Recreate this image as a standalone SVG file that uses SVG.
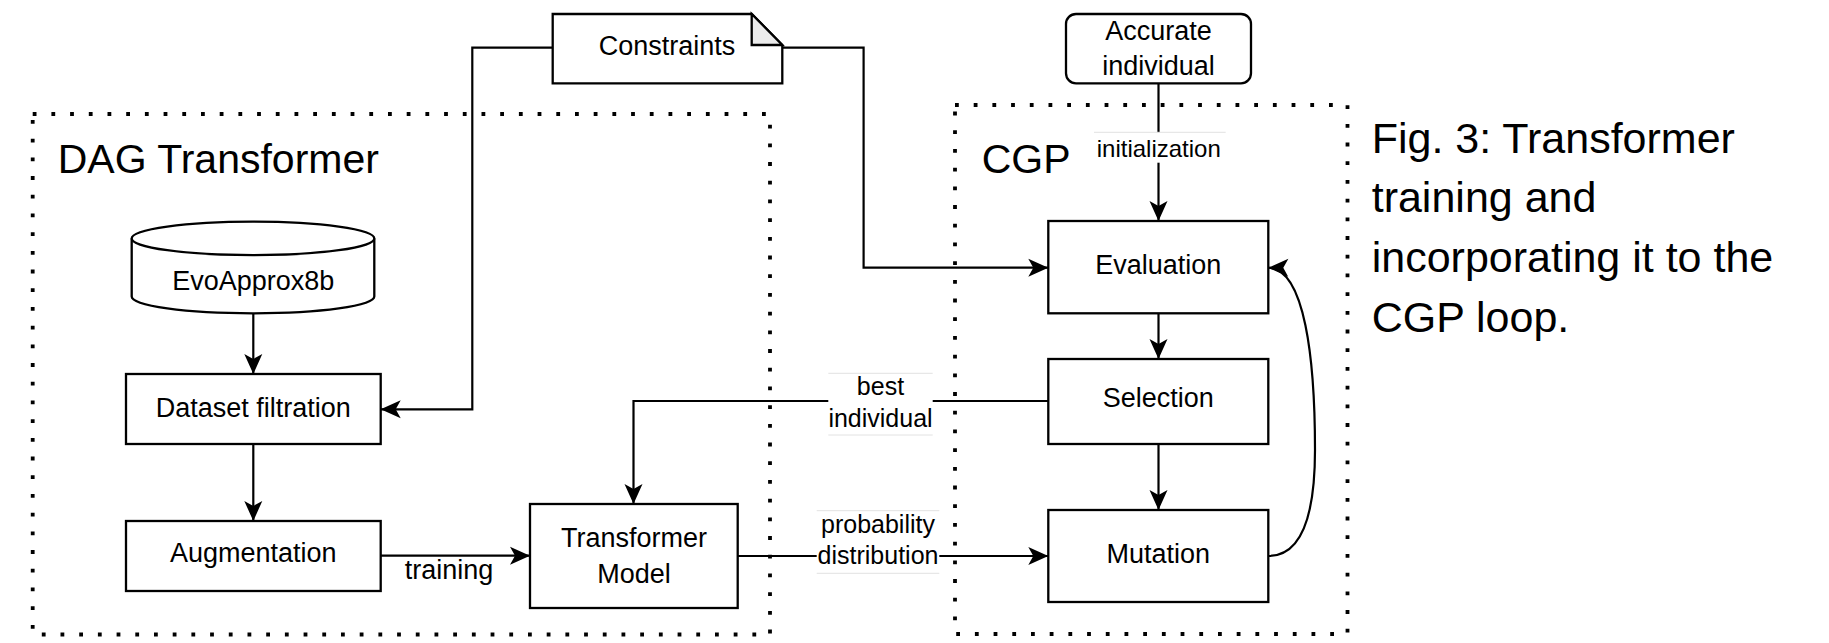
<svg xmlns="http://www.w3.org/2000/svg" width="1829" height="643" viewBox="0 0 1829 643">
<style>
text{font-family:"Liberation Sans",Arial,sans-serif;fill:#000}
.n{font-size:27px;text-anchor:middle}
.l{font-size:25px;text-anchor:middle}
.big{font-size:41px}
.cap{font-size:43px}
.box{fill:#fff;stroke:#000;stroke-width:2.3}
.grp{fill:none;stroke:#000;stroke-width:3.8;stroke-dasharray:3.8 14.9}
.c{fill:none;stroke:#000;stroke-width:2.2}
.lbg{fill:#fff}
.lln{stroke:#e2e2e2;stroke-width:1}
</style>
<defs>
<marker id="arr" markerUnits="userSpaceOnUse" markerWidth="24" markerHeight="22" viewBox="-21 -11 22 22" refX="0" refY="0" orient="auto">
<path d="M0,0 L-20,-9 L-15,0 L-20,9 Z" fill="#000"/>
</marker>
</defs>
<rect width="1829" height="643" fill="#fff"/>

<g id="group-dag">
<rect class="grp" x="32.7" y="114" width="737.3" height="520.5"/>
<text class="big" x="57.7" y="173.3">DAG Transformer</text>
</g>
<g id="group-cgp">
<rect class="grp" x="955" y="105" width="392.5" height="529"/>
<text class="big" x="981.7" y="173.3">CGP</text>
</g>

<g id="connectors">
<path class="c" d="M552.7,47.7 H472.3 V409.3 H380.7" marker-end="url(#arr)"/>
<path class="c" d="M782.3,47.7 H863.6 V267.7 H1048.3" marker-end="url(#arr)"/>
<path class="c" d="M1158.5,83.3 V221" marker-end="url(#arr)"/>
<path class="c" d="M253.3,313.3 V374" marker-end="url(#arr)"/>
<path class="c" d="M253.3,444 V521" marker-end="url(#arr)"/>
<path class="c" d="M380.7,555.7 H530" marker-end="url(#arr)"/>
<path class="c" d="M1048.3,401 H633.5 V504" marker-end="url(#arr)"/>
<path class="c" d="M737.7,556 H1048.3" marker-end="url(#arr)"/>
<path class="c" d="M1158.5,313.3 V359" marker-end="url(#arr)"/>
<path class="c" d="M1158.5,444 V510" marker-end="url(#arr)"/>
<path class="c" d="M1268.3,556 C1300,556 1315,520 1315,450 C1315,360 1305,268 1268.3,267.7" marker-end="url(#arr)"/>
<g id="label-initialization">
<rect class="lbg" x="1094" y="132.3" width="131.7" height="30.4"/>
<line class="lln" x1="1094" y1="132.3" x2="1225.7" y2="132.3"/>
<text x="1158.8" y="156.7" style="font-size:24px;text-anchor:middle">initialization</text>
</g>
<g id="label-training">
<text class="n" x="449" y="579.3">training</text>
</g>
<g id="label-best">
<rect class="lbg" x="828.3" y="373.3" width="104.4" height="61.7"/>
<line class="lln" x1="828.3" y1="373.3" x2="932.7" y2="373.3"/>
<line class="lln" x1="828.3" y1="435" x2="932.7" y2="435"/>
<text class="l" x="880.5" y="395">best</text>
<text class="l" x="880.5" y="426.7">individual</text>
</g>
<g id="label-prob">
<rect class="lbg" x="816.7" y="510.7" width="122.6" height="62.6"/>
<line class="lln" x1="816.7" y1="510.7" x2="939.3" y2="510.7"/>
<line class="lln" x1="816.7" y1="573.3" x2="939.3" y2="573.3"/>
<text class="l" x="878" y="533.3">probability</text>
<text class="l" x="878" y="564">distribution</text>
</g>
</g>

<g id="node-constraints">
<path class="box" d="M552.7,14 H751.7 L782.3,45 V83.3 H552.7 Z"/>
<path d="M751.7,14 V45 H782.3 Z" fill="#ebebeb" stroke="#000" stroke-width="2.3" stroke-linejoin="miter"/>
<text class="n" x="667" y="54.5">Constraints</text>
</g>
<g id="node-accurate">
<rect class="box" x="1066" y="14" width="185" height="69.3" rx="10"/>
<text class="n" x="1158.5" y="40">Accurate</text>
<text class="n" x="1158.5" y="75">individual</text>
</g>
<g id="node-evoapprox">
<path class="box" d="M131.7,238.4 A121.3,16.7 0 0 1 374.3,238.4 V296.6 A121.3,16.7 0 0 1 131.7,296.6 Z"/>
<path d="M131.7,238.4 A121.3,16.7 0 0 0 374.3,238.4" fill="none" stroke="#000" stroke-width="2.3"/>
<text class="n" x="253.3" y="290">EvoApprox8b</text>
</g>
<g id="node-dataset">
<rect class="box" x="126" y="374" width="254.7" height="70"/>
<text class="n" x="253.3" y="416.7">Dataset filtration</text>
</g>
<g id="node-augmentation">
<rect class="box" x="126" y="521" width="254.7" height="70"/>
<text class="n" x="253.3" y="561.7">Augmentation</text>
</g>
<g id="node-transformer">
<rect class="box" x="530" y="504" width="207.7" height="104"/>
<text class="n" x="634" y="546.7">Transformer</text>
<text class="n" x="634" y="582.7">Model</text>
</g>
<g id="node-evaluation">
<rect class="box" x="1048.3" y="221" width="220" height="92.3"/>
<text class="n" x="1158.3" y="274">Evaluation</text>
</g>
<g id="node-selection">
<rect class="box" x="1048.3" y="359" width="220" height="85"/>
<text class="n" x="1158.3" y="407.3">Selection</text>
</g>
<g id="node-mutation">
<rect class="box" x="1048.3" y="510" width="220" height="92"/>
<text class="n" x="1158.3" y="562.7">Mutation</text>
</g>

<g id="caption">
<text class="cap" x="1371.7" y="153.3">Fig. 3: Transformer</text>
<text class="cap" x="1371.7" y="212.3">training and</text>
<text class="cap" x="1371.7" y="271.7">incorporating it to the</text>
<text class="cap" x="1371.7" y="331.7">CGP loop.</text>
</g>
</svg>
